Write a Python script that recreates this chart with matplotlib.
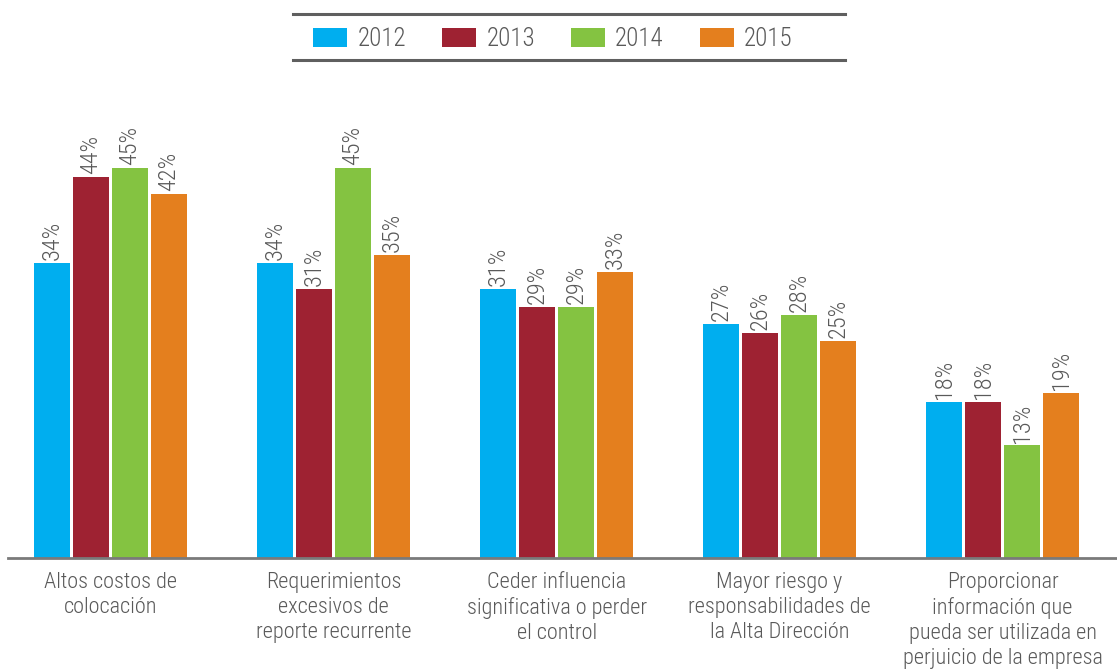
import matplotlib
matplotlib.use("Agg")
import matplotlib.pyplot as plt
from matplotlib.patches import Patch
from matplotlib.lines import Line2D
import numpy as np

plt.rcParams['font.family'] = ['Roboto Condensed', 'Liberation Sans Narrow', 'Roboto', 'DejaVu Sans']

categories = [
    "Altos costos de\ncolocación",
    "Requerimientos\nexcesivos de\nreporte recurrente",
    "Ceder influencia\nsignificativa o perder\nel control",
    "Mayor riesgo y\nresponsabilidades de\nla Alta Dirección",
    "Proporcionar\ninformación que\npueda ser utilizada en\nperjuicio de la empresa",
]
years = ["2012", "2013", "2014", "2015"]
values = {
    "2012": [34, 34, 31, 27, 18],
    "2013": [44, 31, 29, 26, 18],
    "2014": [45, 45, 29, 28, 13],
    "2015": [42, 35, 33, 25, 19],
}
colors = ["#00AEEF", "#9E2232", "#84C341", "#E47F1E"]
text_color = "#595959"

fig = plt.figure(figsize=(11.17, 6.71), dpi=100)
ax = fig.add_axes([8 / 1117, 1 - 558 / 671, 1 - 8 / 1117, (558 - 60) / 671])

x = np.arange(len(categories))
step = 0.175
width = 0.163
offsets = (np.arange(len(years)) - 1.5) * step

for i, yr in enumerate(years):
    vals = values[yr]
    ax.bar(x + offsets[i], vals, width=width, color=colors[i], zorder=2)
    for xi, v in zip(x + offsets[i], vals):
        ax.annotate(f"{v}%", (xi, v), xytext=(0, 2), textcoords="offset points",
                    rotation=90, ha="center", va="bottom", fontsize=17.5,
                    fontweight="light", color=text_color)

ax.set_xlim(-0.46, 4.513)
ax.set_ylim(0, (558 - 60) / 8.67)
ax.set_xticks(x)
ax.set_xticklabels(categories, fontsize=16, fontweight="light", color=text_color,
                   linespacing=1.25)
ax.tick_params(axis="x", length=0, pad=10)
ax.set_yticks([])
for s in ["top", "right", "left"]:
    ax.spines[s].set_visible(False)
ax.spines["bottom"].set_color("#7a7a7a")
ax.spines["bottom"].set_linewidth(2)
ax.spines["bottom"].set_zorder(3)

handles = [Patch(facecolor=c, edgecolor="none") for c in colors]
fig.legend(handles, years, loc="center", bbox_to_anchor=(553 / 1117, 1 - 39 / 671),
           ncol=4, frameon=False, prop={"size": 18, "weight": "light"},
           labelcolor=text_color, handlelength=1.36, handleheight=0.8,
           columnspacing=1.45, handletextpad=0.4)

for yy in [14, 60]:
    fig.add_artist(Line2D([293 / 1117, 845 / 1117], [1 - yy / 671, 1 - yy / 671],
                          color="#5f5f5f", linewidth=2.2, transform=fig.transFigure))

fig.savefig("out.png", dpi=100)
